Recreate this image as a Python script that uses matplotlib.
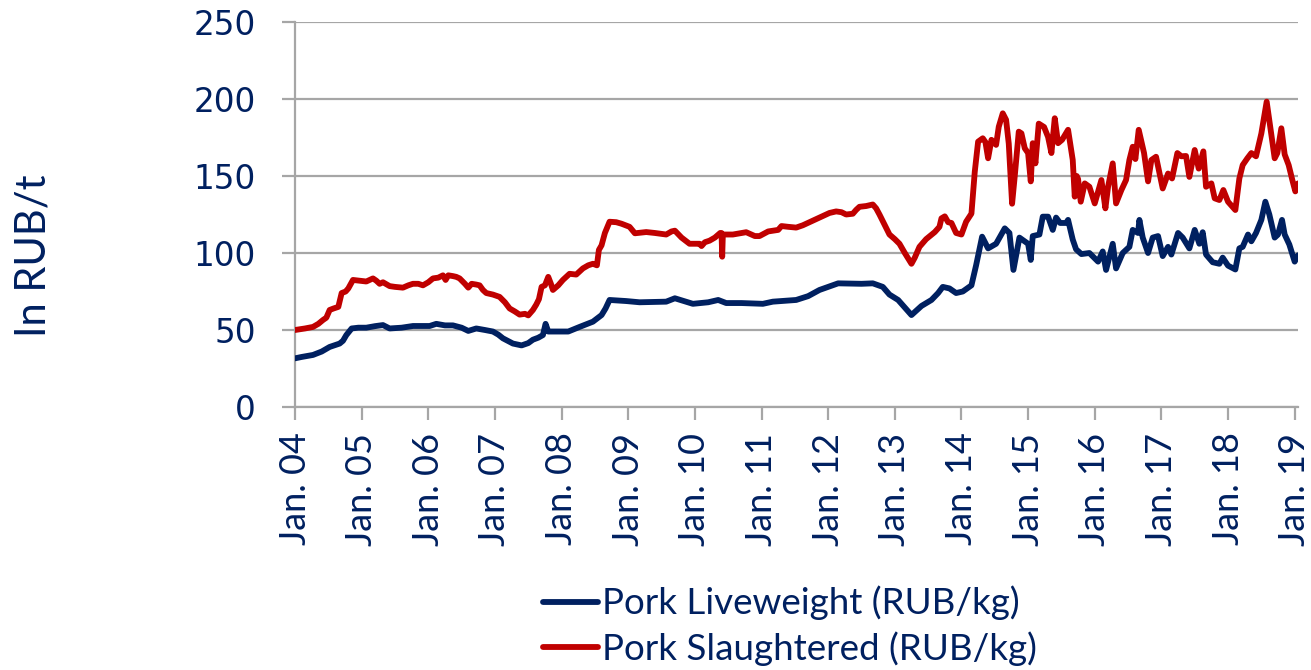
import matplotlib
matplotlib.use("Agg")
import matplotlib.pyplot as plt

# ---- data (decimal year, RUB/kg) ----
slaughter_t = [2004.0, 2004.15, 2004.27, 2004.35, 2004.42, 2004.47, 2004.52, 2004.58, 2004.65, 2004.7, 2004.76, 2004.8, 2004.87, 2004.97,
    2005.07, 2005.17, 2005.22, 2005.27, 2005.32, 2005.42, 2005.5, 2005.62, 2005.7, 2005.77, 2005.85, 2005.92,
    2006.0, 2006.07, 2006.15, 2006.22, 2006.26, 2006.3, 2006.37, 2006.42, 2006.47, 2006.55, 2006.6, 2006.65, 2006.72, 2006.77, 2006.82, 2006.87, 2006.97,
    2007.07, 2007.15, 2007.22, 2007.3, 2007.37, 2007.45, 2007.5, 2007.57, 2007.62, 2007.66, 2007.7, 2007.75, 2007.8, 2007.84, 2007.87, 2007.95,
    2008.02, 2008.12, 2008.22, 2008.32, 2008.4, 2008.47, 2008.53, 2008.56, 2008.6, 2008.65, 2008.72, 2008.82, 2008.9,
    2009.02, 2009.1, 2009.27, 2009.4, 2009.57, 2009.65, 2009.7, 2009.8, 2009.92,
    2010.07, 2010.1, 2010.15, 2010.22, 2010.3, 2010.38, 2010.4, 2010.41, 2010.42, 2010.57, 2010.77, 2010.9, 2010.97,
    2011.1, 2011.17, 2011.25, 2011.3, 2011.4, 2011.52, 2011.62, 2011.72, 2011.82, 2011.92,
    2012.02, 2012.12, 2012.2, 2012.27, 2012.37, 2012.42, 2012.47, 2012.57, 2012.67, 2012.72, 2012.77, 2012.85, 2012.92,
    2013.0, 2013.07, 2013.15, 2013.25, 2013.3, 2013.37, 2013.47, 2013.6, 2013.67, 2013.7, 2013.75, 2013.8, 2013.85, 2013.92,
    2014.0, 2014.07, 2014.15, 2014.2, 2014.25, 2014.32, 2014.36, 2014.4, 2014.45, 2014.52, 2014.56, 2014.62, 2014.67, 2014.71, 2014.76, 2014.8, 2014.86, 2014.9, 2014.95,
    2015.0, 2015.04, 2015.07, 2015.11, 2015.16, 2015.24, 2015.3, 2015.35, 2015.4, 2015.45, 2015.51, 2015.6, 2015.67, 2015.7, 2015.73, 2015.75, 2015.79, 2015.85, 2015.92,
    2016.0, 2016.1, 2016.16, 2016.2, 2016.27, 2016.32, 2016.4, 2016.47, 2016.52, 2016.57, 2016.61, 2016.66, 2016.74, 2016.8, 2016.85, 2016.92,
    2017.02, 2017.1, 2017.16, 2017.24, 2017.3, 2017.37, 2017.42, 2017.5, 2017.56, 2017.63, 2017.67, 2017.75, 2017.8, 2017.87, 2017.93,
    2018.0, 2018.11, 2018.17, 2018.22, 2018.29, 2018.35, 2018.42, 2018.5, 2018.58, 2018.64, 2018.7, 2018.74, 2018.8, 2018.85, 2018.91, 2018.97,
    2019.01, 2019.05]
slaughter_v = [50, 51, 52, 54, 56.5, 58, 63, 64, 65, 74, 75, 77, 82.5, 82,
    81.5, 83.5, 82, 80, 81, 78.5, 78, 77.5, 79, 80, 80, 79,
    81, 83.5, 84, 85.5, 82.5, 85.5, 85, 84.5, 83.5, 80, 77.5, 80, 79.5, 79, 76, 74, 73,
    71.5, 68, 64, 62, 60, 60.5, 59.5, 63, 66.5, 70, 78, 79, 84.5, 80, 76, 79,
    82.5, 86.5, 86, 90, 92, 93, 92, 102, 105, 113, 120.3, 120, 119,
    117, 112.8, 113.6, 113, 112, 114, 114.5, 110, 106,
    106, 104.5, 107, 108, 110, 113, 113, 97.6, 112, 112, 113.5, 111, 111,
    114, 114.5, 115, 117.5, 117, 116.5, 118, 120, 122, 124,
    126, 127, 126.5, 125, 125.5, 128, 130, 130.5, 131.5, 129, 125, 118, 112,
    109, 106, 100, 93, 97, 104, 109, 113.6, 117, 122.5, 123.8, 120, 119.5, 113,
    112, 120.3, 125.6, 152.8, 172.3, 174.5, 172, 161.5, 173.5, 170.2, 182, 190.7, 186.5, 171, 132, 150, 178.8, 177.7, 168,
    164.9, 146.5, 171.3, 158.2, 184, 181.8, 175.3, 164.9, 187.5, 171.3, 173.5, 180, 160.4, 136.6, 150, 148, 133.3, 145.2, 143,
    132.2, 147.4, 129, 143, 158.2, 132.2, 140.9, 147.4, 160.4, 169, 161, 180, 164.9, 146.5, 160.4, 162.5,
    141.9, 151.6, 148.4, 164.9, 162.8, 163, 149.4, 166.9, 154.8, 166, 143, 145.2, 135.5, 134.4, 140.9,
    133.3, 127.9, 148.4, 157.1, 161.5, 164.9, 162.8, 177.6, 198.3, 180, 161.5, 164.9, 181, 164, 157.1, 146.5,
    140, 145.2]

live_t = [2004.0, 2004.1, 2004.27, 2004.4, 2004.52, 2004.67, 2004.72, 2004.77, 2004.85, 2004.95,
    2005.07, 2005.2, 2005.32, 2005.42, 2005.6, 2005.77,
    2006.02, 2006.12, 2006.25, 2006.37, 2006.5, 2006.6, 2006.72, 2006.85, 2006.97,
    2007.05, 2007.12, 2007.27, 2007.4, 2007.5, 2007.57, 2007.65, 2007.72, 2007.76, 2007.8,
    2008.1, 2008.27, 2008.47, 2008.6, 2008.66, 2008.72, 2008.97,
    2009.17, 2009.57, 2009.7, 2009.97,
    2010.2, 2010.35, 2010.47, 2010.7,
    2011.02, 2011.17, 2011.52, 2011.7, 2011.87,
    2012.15, 2012.5, 2012.67, 2012.82, 2012.92,
    2013.05, 2013.25, 2013.4, 2013.55, 2013.65, 2013.72, 2013.82, 2013.92,
    2014.02, 2014.15, 2014.22, 2014.31, 2014.4, 2014.52, 2014.65, 2014.72, 2014.78, 2014.87,
    2015.0, 2015.04, 2015.07, 2015.17, 2015.22, 2015.3, 2015.37, 2015.42, 2015.48, 2015.57, 2015.6, 2015.67, 2015.72, 2015.8, 2015.92,
    2016.05, 2016.12, 2016.17, 2016.27, 2016.32, 2016.42, 2016.52, 2016.57, 2016.65, 2016.67, 2016.72, 2016.8, 2016.87, 2016.95,
    2017.02, 2017.1, 2017.15, 2017.25, 2017.32, 2017.42, 2017.5, 2017.57, 2017.62, 2017.67, 2017.77, 2017.87, 2017.92,
    2018.0, 2018.11, 2018.17, 2018.22, 2018.3, 2018.35, 2018.42, 2018.5, 2018.56, 2018.62, 2018.7, 2018.75, 2018.81, 2018.85, 2018.92,
    2019.0, 2019.05]
live_v = [31.6, 32.5, 33.8, 36, 39, 41.2, 43, 46.7, 51, 51.5,
    51.5, 52.5, 53.2, 51, 51.5, 52.6,
    52.6, 54, 53, 53, 51.5, 49.4, 51, 50, 49,
    47, 44.6, 41.2, 40, 41.5, 43.7, 45, 46.7, 54, 49,
    49, 52, 55.4, 59.7, 64, 69.5, 68.8,
    68, 68.4, 70.6, 67,
    68, 69.5, 67.5, 67.5,
    67, 68.4, 69.5, 72, 76,
    80.3, 80, 80.3, 78, 73,
    69.5, 59.7, 65.6, 69.5, 74, 78, 77, 74,
    75, 79, 92, 110.6, 103, 106, 116, 113, 89, 110,
    106, 95.5, 111, 112, 123.6, 123.6, 115, 123, 119.5, 119.5, 121.5, 108.7, 102.4, 99.3, 100,
    94.4, 101, 89, 106, 90, 100, 104, 115, 113, 121.5, 110, 100, 110, 111,
    98, 104, 99, 113, 110, 103, 115, 106, 113.5, 99, 94, 93, 97,
    91.8, 89.3, 103, 104, 112, 107.6, 113, 121.5, 133.3, 125, 110, 112, 121.5, 112, 105.5,
    94.4, 98.5]

years = list(range(2004, 2020))
year_labels = ["Jan. %02d" % (y % 100) for y in years]
y_ticks = [0, 50, 100, 150, 200, 250]

NAVY = "#002060"
RED = "#C00000"
GRID = "#a6a6a6"

fig = plt.figure(figsize=(13.11, 6.70), dpi=100)
ax = fig.add_axes([295/1311, 1 - 407/670, (1298 - 295)/1311, (407 - 22)/670])

ax.plot(live_t, live_v, color=NAVY, lw=4.2, solid_joinstyle="round", solid_capstyle="round",
        label="Pork Liveweight (RUB/kg)", zorder=3)
ax.plot(slaughter_t, slaughter_v, color=RED, lw=4.2, solid_joinstyle="round", solid_capstyle="round",
        label="Pork Slaughtered (RUB/kg)", zorder=3)

ax.set_xlim(2004.0, 2019.05)
ax.set_ylim(0, 250)
ax.set_yticks(y_ticks)
ax.set_yticklabels([str(v) for v in y_ticks], fontsize=23.5, color=NAVY, family="DejaVu Sans")
ax.set_xticks(years)
ax.set_xticklabels(year_labels, rotation=90, fontsize=26, color=NAVY, family="Lato")

ax.grid(axis="y", color=GRID, lw=1.6, zorder=0)
for s in ["top", "right"]:
    ax.spines[s].set_visible(False)
for s in ["left", "bottom"]:
    ax.spines[s].set_color(GRID)
    ax.spines[s].set_linewidth(1.6)
ax.tick_params(axis="both", direction="out", color=GRID, width=1.6, length=9.4)
ax.tick_params(axis="y", pad=19)
ax.tick_params(axis="x", pad=9)

fig.text(33/1311, 1 - 256/670, "In RUB/t", rotation=90, ha="center", va="center",
         fontsize=30, color=NAVY, family="Lato")

leg = fig.legend(loc="center", bbox_to_anchor=(790/1311, 1 - 626/670), frameon=False,
                 handlelength=1.5, handletextpad=0.1, labelspacing=0.3, borderpad=0,
                 prop={"family": "Lato", "size": 26.5})
for t in leg.get_texts():
    t.set_color(NAVY)

fig.savefig("out.png", dpi=100)
